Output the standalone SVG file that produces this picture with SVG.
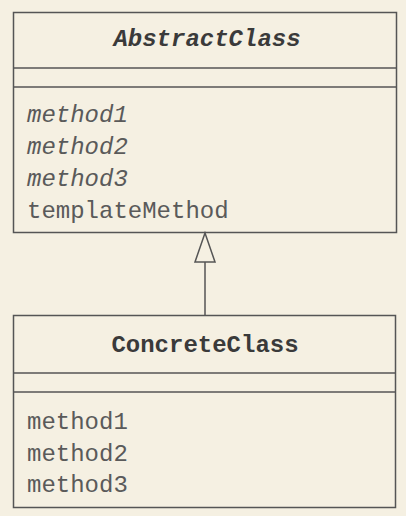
<svg xmlns="http://www.w3.org/2000/svg" width="406" height="516" viewBox="0 0 406 516">
<style>
.box{fill:none;stroke:#555;stroke-width:1.5}
.name{font-family:"Liberation Mono","Courier New",monospace;font-size:24px;font-weight:bold;fill:#3a3a3a;text-anchor:middle}
.m{font-family:"Liberation Mono","Courier New",monospace;font-size:24px;fill:#5a5a5a}
.it{font-style:italic}
</style>
<rect width="406" height="516" fill="#f5f0e2"/>
<g id="AbstractClass">
<rect class="box" x="13.5" y="12.5" width="383" height="220"/>
<line class="box" x1="13.5" y1="68" x2="396.5" y2="68"/>
<line class="box" x1="13.5" y1="87" x2="396.5" y2="87"/>
<text class="name it" x="207" y="46">AbstractClass</text>
<text class="m it" x="27" y="122">method1</text>
<text class="m it" x="27" y="154">method2</text>
<text class="m it" x="27" y="186">method3</text>
<text class="m" x="27" y="218">templateMethod</text>
</g>
<g id="ConcreteClass">
<rect class="box" x="13.5" y="315.5" width="382" height="192"/>
<line class="box" x1="13.5" y1="373" x2="395.5" y2="373"/>
<line class="box" x1="13.5" y1="392" x2="395.5" y2="392"/>
<text class="name" x="205" y="352">ConcreteClass</text>
<text class="m" x="27" y="429">method1</text>
<text class="m" x="27" y="461">method2</text>
<text class="m" x="27" y="492">method3</text>
</g>
<g id="connectors">
<line class="box" x1="205" y1="315" x2="205" y2="262"/>
<polygon class="box" points="205,233 195,262 215,262"/>
</g>
</svg>
